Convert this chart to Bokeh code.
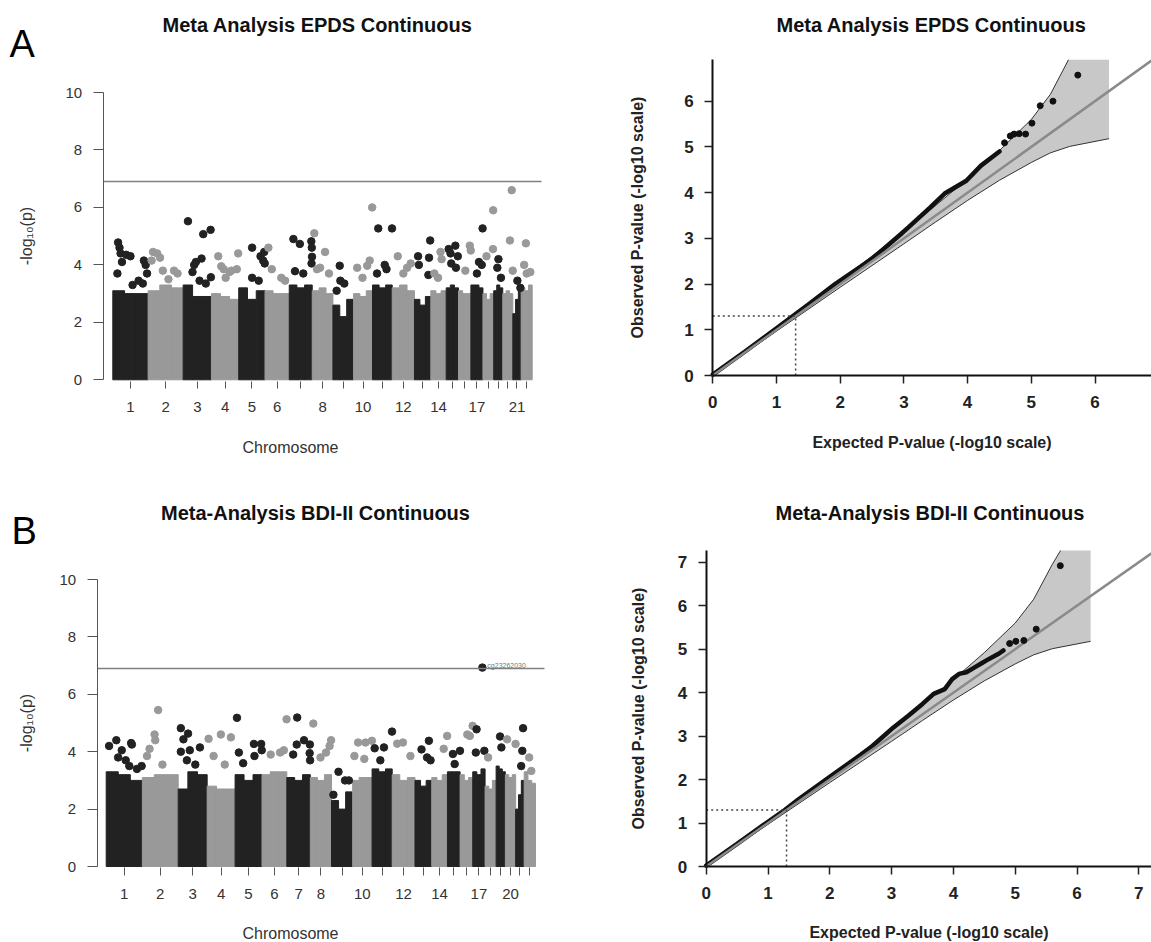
from bokeh.plotting import figure
from bokeh.models import FixedTicker, Label
from bokeh.layouts import column, row
from bokeh.embed import file_html
from bokeh.resources import INLINE

FONT = "Liberation Sans"
BLACK = "#222222"
GREY = "#999999"

# ---------------- data ----------------
chromosomes = [str(i) for i in range(1, 23)]
chrom_span = [246, 244, 197, 190, 183, 169, 160, 144, 144, 132, 137, 155,
              114, 107, 86, 86, 84, 75, 63, 70, 58, 77]
tick_labels_epds = ["1", "2", "3", "4", "5", "6", "", "8", "", "10", "", "12",
                    "", "14", "", "", "17", "", "", "", "21", ""]
tick_labels_bdi = ["1", "2", "3", "4", "5", "6", "7", "8", "", "10", "", "12",
                   "", "14", "", "", "17", "", "", "20", "", ""]

# upper edge of the dense mass of points, three segments per chromosome
body_epds = [[3.1, 3.0, 3.0], [3.1, 3.3, 3.2], [3.3, 2.9, 2.9], [3.0, 2.9, 2.8],
             [3.2, 2.8, 3.1], [3.1, 3.0, 3.0], [3.3, 3.2, 3.3], [3.1, 3.2, 3.0],
             [2.6, 2.2, 2.8], [3.0, 2.9, 3.1], [3.3, 3.2, 3.3], [3.2, 3.3, 3.1],
             [2.8, 2.6, 2.9], [3.1, 3.0, 3.1], [3.2, 3.3, 3.2], [3.1, 3.0, 3.0],
             [3.3, 3.3, 3.2], [3.0, 2.8, 3.0], [3.1, 3.3, 3.2], [3.0, 3.1, 3.0],
             [2.3, 2.8, 3.1], [3.2, 3.1, 3.3]]
body_bdi = [[3.3, 3.2, 3.0], [3.1, 3.2, 3.2], [2.7, 3.3, 3.2], [2.8, 2.7, 2.7],
            [3.2, 3.0, 3.2], [3.2, 3.3, 3.3], [3.1, 3.0, 3.2], [3.1, 3.0, 3.2],
            [2.3, 2.0, 2.6], [3.0, 3.1, 3.1], [3.4, 3.3, 3.4], [3.2, 3.0, 3.1],
            [3.0, 2.8, 3.0], [3.1, 3.0, 3.2], [3.3, 3.3, 3.3], [3.2, 3.0, 3.1],
            [3.3, 3.2, 3.4], [2.8, 2.7, 3.0], [3.5, 3.4, 3.3], [3.2, 3.1, 3.2],
            [2.0, 2.5, 3.0], [3.3, 3.0, 2.9]]

# (chromosome, relative position within chromosome, -log10 p)
peaks_epds = [
    (1, .15, 4.78), (1, .19, 4.6), (1, .22, 4.4), (1, .26, 4.1), (1, .13, 3.7), (1, .38, 4.35),
    (1, .5, 4.3), (1, .56, 3.3), (1, .73, 3.45), (1, .88, 4.15), (1, .93, 4.0), (1, .97, 3.7), (1, .85, 3.35),
    (2, .14, 4.45), (2, .26, 4.4), (2, .34, 4.25), (2, .1, 4.15), (2, .42, 3.8), (2, .74, 3.8), (2, .84, 3.7), (2, .58, 3.5),
    (3, .17, 5.52), (3, .39, 4.0), (3, .45, 4.1), (3, .65, 4.22), (3, .71, 5.07), (3, .97, 5.22), (3, .98, 3.57),
    (3, .33, 3.75), (3, .58, 3.45), (3, .8, 3.35),
    (4, .25, 4.3), (4, .36, 3.95), (4, .45, 3.85), (4, .66, 3.75), (4, .73, 3.8), (4, .93, 3.85), (4, .98, 4.4), (4, .52, 3.55),
    (5, .51, 4.6), (5, .83, 4.3), (5, .93, 4.15), (5, .99, 4.05), (5, .97, 4.45), (5, .51, 3.55), (5, .76, 3.45),
    (6, .14, 4.6), (6, .28, 3.85), (6, .67, 3.55), (6, .83, 3.45),
    (7, .18, 4.9), (7, .46, 4.73), (7, .25, 3.78), (7, .61, 3.7), (7, .96, 4.82), (7, .98, 4.6), (7, .99, 4.28), (7, .97, 4.05),
    (8, .1, 5.1), (8, .62, 4.45), (8, .38, 3.9), (8, .23, 3.85), (8, .81, 3.7),
    (9, .33, 3.97), (9, .18, 3.1), (9, .36, 3.45), (9, .55, 3.35),
    (10, .19, 3.9), (10, .72, 3.97), (10, .98, 6.0), (10, .85, 4.15), (10, .47, 3.55),
    (11, .29, 5.27), (11, .62, 4.0), (11, .71, 3.85), (11, .23, 3.7), (11, .99, 5.27),
    (12, .25, 4.3), (12, .67, 3.9), (12, .83, 4.05), (12, .5, 3.7),
    (13, .22, 4.3), (13, .27, 4.0), (13, .89, 4.25), (13, .96, 4.85), (13, .85, 3.65),
    (14, .63, 4.45), (14, .7, 4.2), (14, .47, 3.55), (14, .23, 3.7),
    (15, .2, 4.55), (15, .35, 4.4), (15, .74, 4.67), (15, .41, 4.05), (15, .94, 4.3), (15, .79, 3.9),
    (16, .91, 4.67), (16, .99, 4.5), (16, .55, 3.8),
    (17, .97, 5.27), (17, .67, 4.1), (17, .9, 4.0), (17, .5, 3.7),
    (18, .33, 4.3), (18, .95, 5.9), (18, .93, 4.55),
    (19, .52, 4.2), (19, .4, 3.9), (19, .8, 3.55),
    (20, .71, 4.85), (20, .89, 6.6), (20, .99, 3.8),
    (21, .55, 3.45), (21, .91, 3.2),
    (22, .43, 4.75), (22, .27, 4.0), (22, .5, 3.7), (22, .83, 3.75),
]
peaks_bdi = [
    (1, .08, 4.2), (1, .28, 4.4), (1, .43, 4.05), (1, .69, 4.3), (1, .71, 4.25), (1, .33, 3.8),
    (1, .54, 3.7), (1, .64, 3.5), (1, .85, 3.4), (1, .98, 3.5),
    (2, .44, 5.45), (2, .34, 4.6), (2, .36, 4.4), (2, .2, 4.1), (2, .13, 3.85), (2, .56, 3.55),
    (3, .09, 4.82), (3, .34, 4.63), (3, .18, 4.43), (3, .4, 4.05), (3, .75, 4.15), (3, .3, 3.7), (3, .59, 3.55), (3, .09, 4.0),
    (4, .05, 4.45), (4, .49, 4.6), (4, .85, 4.5), (4, .23, 3.85), (4, .63, 3.55),
    (5, .07, 5.18), (5, .14, 3.97), (5, .7, 4.27), (5, .97, 4.27), (5, .99, 4.05), (5, .72, 3.85), (5, .3, 3.6),
    (6, .35, 3.9), (6, .73, 3.97), (6, .88, 4.05), (6, .99, 5.13),
    (7, .44, 5.19), (7, .73, 4.4), (7, .42, 4.25), (7, .27, 3.9), (7, .98, 4.25), (7, .97, 3.95), (7, .99, 3.7),
    (8, .14, 4.98), (8, .98, 4.4), (8, .91, 4.2), (8, .74, 3.97), (8, .48, 3.8),
    (9, .33, 3.3), (9, .64, 3.0), (9, .82, 3.0), (9, .09, 2.5),
    (10, .28, 4.32), (10, .66, 4.32), (10, .99, 4.38), (10, .6, 3.75), (10, .09, 3.85),
    (11, .13, 4.12), (11, .59, 4.15), (11, .99, 4.7), (11, .41, 3.7),
    (12, .22, 4.28), (12, .47, 4.32), (12, .8, 3.85),
    (13, .39, 4.08), (13, .72, 3.8), (13, .93, 3.7), (13, .83, 4.38),
    (14, .98, 4.55), (14, .76, 4.1),
    (15, .43, 3.92), (15, .99, 4.03), (15, .57, 3.57),
    (16, .57, 4.6), (16, .77, 4.55), (16, .99, 4.9),
    (17, .31, 4.78), (17, .78, 6.93), (17, .25, 3.97), (17, .94, 4.03),
    (18, .27, 3.8),
    (19, .43, 4.53), (19, .57, 4.15),
    (20, .17, 4.43), (20, .99, 4.27),
    (21, .87, 4.82), (21, .78, 4.03), (21, .65, 3.5),
    (22, .44, 3.8), (22, .63, 3.33),
]
top_hit_bdi = (17, .78, 6.93, "cg23262030")
threshold = 6.9

# QQ data (expected vs observed -log10 p)
qq_epds_exp = [0.0, 0.5, 1.0, 1.5, 1.92, 2.5, 2.95, 3.07, 3.41, 3.64, 3.98, 4.21, 4.5]
qq_epds_obs = [0.02, 0.52, 1.03, 1.55, 2.0, 2.55, 3.09, 3.24, 3.67, 3.98, 4.26, 4.59, 4.9]
qq_epds_tail_exp = [4.58, 4.67, 4.73, 4.81, 4.91, 5.01, 5.14, 5.34, 5.73]
qq_epds_tail_obs = [5.09, 5.24, 5.28, 5.29, 5.28, 5.52, 5.9, 6.0, 6.57]

qq_bdi_exp = [0.0, 0.5, 1.0, 1.27, 1.5, 2.0, 2.5, 2.68, 3.03, 3.27, 3.5, 3.68, 3.86, 3.98,
              4.09, 4.21, 4.33, 4.45, 4.57, 4.65, 4.74, 4.81]
qq_bdi_obs = [0.02, 0.52, 1.03, 1.3, 1.55, 2.06, 2.57, 2.76, 3.2, 3.47, 3.74, 3.97, 4.08, 4.31,
              4.43, 4.47, 4.57, 4.67, 4.77, 4.83, 4.9, 4.97]
qq_bdi_tail_exp = [4.91, 5.01, 5.14, 5.34, 5.73]
qq_bdi_tail_obs = [5.13, 5.18, 5.2, 5.46, 6.92]

band_exp = [0.0, 1.0, 2.0, 3.0, 3.5, 4.0, 4.5, 5.0, 5.3, 5.6, 6.0, 6.22]
band_upper = [0.0, 1.04, 2.08, 3.15, 3.72, 4.3, 4.92, 5.6, 6.15, 6.95, 7.9, 8.6]
band_lower = [0.0, 0.97, 1.93, 2.88, 3.36, 3.83, 4.27, 4.66, 4.87, 5.01, 5.12, 5.18]
sig_level = 1.3


class Mapper:
    """Linear page-pixel -> data mapping of one panel (layout only)."""
    def __init__(self, x0_px, x_scale, y0_px, y_scale):
        self.x0_px, self.xs, self.y0_px, self.ys = x0_px, x_scale, y0_px, y_scale

    def X(self, px):
        return (px - self.x0_px) / self.xs

    def Y(self, py):
        return (self.y0_px - py) / self.ys


def add_text(p, x, y, text, size, style="normal", align="center",
             baseline="middle", color="#111111"):
    p.add_layout(Label(x=x, y=y, text=text, text_font=FONT, text_font_size=size,
                       text_font_style=style, text_align=align,
                       text_baseline=baseline, text_color=color))


def base_fig(W, H, m, ox, oy):
    p = figure(width=W, height=H, x_range=(m.X(ox), m.X(ox + W)),
               y_range=(m.Y(oy + H), m.Y(oy)), output_backend="svg",
               toolbar_location=None, min_border=0, min_border_left=0,
               min_border_right=0, min_border_top=0, min_border_bottom=0)
    p.outline_line_color = None
    p.grid.visible = False
    p.background_fill_color = "white"
    return p


def manhattan(W, H, ox, oy, m, region, body, peaks, labels, title, title_xy, letter,
              letter_xy, ylab_standoff, xlab_standoff, xtick_in, top_hit=None):
    starts = []
    acc = 0
    for s in chrom_span:
        starts.append(acc)
        acc += s
    p = base_fig(W, H, m, ox, oy)

    lefts, rights, tops, cols = [], [], [], []
    for i, segs in enumerate(body):
        n = len(segs)
        for k, h in enumerate(segs):
            lefts.append(starts[i] + chrom_span[i] * k / n)
            rights.append(starts[i] + chrom_span[i] * (k + 1) / n)
            tops.append(h)
            cols.append(BLACK if i % 2 == 0 else GREY)
    p.quad(left=lefts, right=rights, bottom=0, top=tops, color=cols, line_width=1)

    px, py, pc = [], [], []
    for c, f, v in peaks:
        px.append(starts[c - 1] + f * chrom_span[c - 1])
        py.append(v)
        pc.append(BLACK if (c - 1) % 2 == 0 else GREY)
    p.scatter(px, py, size=7.5, color=pc, marker="circle")

    xl, xr = m.X(region[0]), m.X(region[1])
    p.segment(x0=[xl], y0=[threshold], x1=[xr], y1=[threshold],
              line_color="#808080", line_width=1.5)

    centers = [starts[i] + chrom_span[i] / 2 for i in range(len(chrom_span))]
    xa = p.xaxis[0]
    xa.fixed_location = 0
    xa.ticker = FixedTicker(ticks=centers)
    xa.major_label_overrides = {c: lab for c, lab in zip(centers, labels)}
    xa.axis_line_color = None
    xa.major_tick_line_color = "#555555"
    xa.major_tick_out = 9
    xa.major_tick_in = xtick_in
    xa.minor_tick_line_color = None
    xa.major_label_text_font = FONT
    xa.major_label_text_font_size = "15px"
    xa.major_label_text_color = "#333333"
    xa.major_label_standoff = 13
    xa.axis_label = "Chromosome"
    xa.axis_label_text_font = FONT
    xa.axis_label_text_font_style = "normal"
    xa.axis_label_text_font_size = "16px"
    xa.axis_label_text_color = "#333333"
    xa.axis_label_standoff = xlab_standoff

    ya = p.yaxis[0]
    ya.fixed_location = xl
    ya.bounds = (0, 10)
    ya.ticker = FixedTicker(ticks=[0, 2, 4, 6, 8, 10])
    ya.axis_line_color = "#555555"
    ya.major_tick_line_color = "#555555"
    ya.major_tick_out = 10
    ya.major_tick_in = 0
    ya.minor_tick_line_color = None
    ya.major_label_text_font = FONT
    ya.major_label_text_font_size = "15px"
    ya.major_label_text_color = "#333333"
    ya.major_label_standoff = 11
    ya.axis_label = "-log₁₀(p)"
    ya.axis_label_text_font = FONT
    ya.axis_label_text_font_style = "normal"
    ya.axis_label_text_font_size = "16px"
    ya.axis_label_text_color = "#333333"
    ya.axis_label_standoff = ylab_standoff

    add_text(p, m.X(title_xy[0]), m.Y(title_xy[1]), title, "20px", style="bold")
    add_text(p, m.X(letter_xy[0]), m.Y(letter_xy[1]), letter, "38px", align="left",
             baseline="alphabetic", color="#000000")
    if top_hit is not None:
        c, f, v, name = top_hit
        p.add_layout(Label(x=starts[c - 1] + f * chrom_span[c - 1], y=v, x_offset=5, y_offset=2,
                           text=name, text_font=FONT, text_font_size="7px",
                           text_color="#777777", text_baseline="middle"))
    return p


def clip_top(xs, ys, top, close_along_top):
    cx, cy = [], []
    for i in range(len(xs)):
        if ys[i] <= top:
            cx.append(xs[i])
            cy.append(ys[i])
        else:
            if i > 0 and ys[i - 1] < top:
                t = (top - ys[i - 1]) / (ys[i] - ys[i - 1])
                cx.append(xs[i - 1] + t * (xs[i] - xs[i - 1]))
                cy.append(top)
            if close_along_top:
                cx.append(xs[i])
                cy.append(top)
    return cx, cy


def qqplot(W, H, ox, oy, m, x_max, y_max, ticks, exp_d, obs_d, exp_t, obs_t, title,
           title_xy, ylab_standoff, xlab_standoff):
    p = base_fig(W, H, m, ox, oy)

    ux, uy = clip_top(band_exp, band_upper, y_max, True)
    p.patch(ux + band_exp[::-1], uy + band_lower[::-1], fill_color="#c8c8c8", line_color=None)
    lx, ly = clip_top(band_exp, band_upper, y_max, False)
    p.line(lx, ly, line_color="#333333", line_width=1)
    p.line(band_exp, band_lower, line_color="#333333", line_width=1)

    p.line(exp_d, obs_d, line_color="#111111", line_width=4.5, line_cap="round")
    diag_end = min(x_max, y_max)
    p.line([0, diag_end], [0, diag_end], line_color="#8a8a8a", line_width=2.5)
    p.scatter(exp_t, obs_t, size=6, color="#111111", marker="circle")
    p.segment(x0=[0, sig_level], y0=[sig_level, 0], x1=[sig_level, sig_level],
              y1=[sig_level, sig_level], line_color="#444444", line_width=1.5, line_dash="2 3")

    xa, ya = p.xaxis[0], p.yaxis[0]
    xa.fixed_location = 0
    ya.fixed_location = 0
    xa.bounds = (0, x_max)
    ya.bounds = (0, y_max)
    for ax in (xa, ya):
        ax.ticker = FixedTicker(ticks=ticks)
        ax.axis_line_color = "#111111"
        ax.axis_line_width = 2
        ax.major_tick_line_color = "#222222"
        ax.major_tick_line_width = 1.5
        ax.major_tick_out = 8
        ax.major_tick_in = 0
        ax.minor_tick_line_color = None
        ax.major_label_text_font = FONT
        ax.major_label_text_font_style = "bold"
        ax.major_label_text_font_size = "17px"
        ax.major_label_text_color = "#222222"
        ax.axis_label_text_font = FONT
        ax.axis_label_text_font_style = "bold"
        ax.axis_label_text_font_size = "16px"
        ax.axis_label_text_color = "#222222"
    xa.major_label_standoff = 12
    ya.major_label_standoff = 11
    xa.axis_label = "Expected P-value (-log10 scale)"
    ya.axis_label = "Observed P-value (-log10 scale)"
    xa.axis_label_standoff = xlab_standoff
    ya.axis_label_standoff = ylab_standoff

    add_text(p, m.X(title_xy[0]), m.Y(title_xy[1]), title, "20px", style="bold")
    return p


total = sum(chrom_span)
# page geometry of each panel (pixels)
m_man_a = Mapper(112.3, 419.4 / total, 379.3, 28.73)
m_qq_a = Mapper(712.3, 63.7, 375.0, 45.72)
m_man_b = Mapper(105.7, 429.3 / total, 866.0, 28.7)
m_qq_b = Mapper(705.7, 61.8, 866.0, 43.47)

man_a = manhattan(580, 470, 0, 0, m_man_a, (102.7, 541), body_epds, peaks_epds,
                  tick_labels_epds, "Meta Analysis EPDS Continuous", (317, 24), "A", (9, 43),
                  28, 24, -2)
qq_a = qqplot(571, 470, 580, 0, m_qq_a, m_qq_a.X(1151), m_qq_a.Y(59.3), [0, 1, 2, 3, 4, 5, 6],
              qq_epds_exp, qq_epds_obs, qq_epds_tail_exp, qq_epds_tail_obs,
              "Meta Analysis EPDS Continuous", (931, 24), 35, 23)
man_b = manhattan(580, 472, 0, 470, m_man_b, (96.7, 544), body_bdi, peaks_bdi,
                  tick_labels_bdi, "Meta-Analysis BDI-II Continuous", (315, 512), "B", (11, 530),
                  22, 23, -1, top_hit=top_hit_bdi)
qq_b = qqplot(571, 472, 580, 470, m_qq_b, m_qq_b.X(1151), m_qq_b.Y(550), [0, 1, 2, 3, 4, 5, 6, 7],
              qq_bdi_exp, qq_bdi_obs, qq_bdi_tail_exp, qq_bdi_tail_obs,
              "Meta-Analysis BDI-II Continuous", (929.5, 512), 28, 22)

layout = column(row(man_a, qq_a), row(man_b, qq_b))
open("out.html", "w").write(file_html(layout, INLINE))
